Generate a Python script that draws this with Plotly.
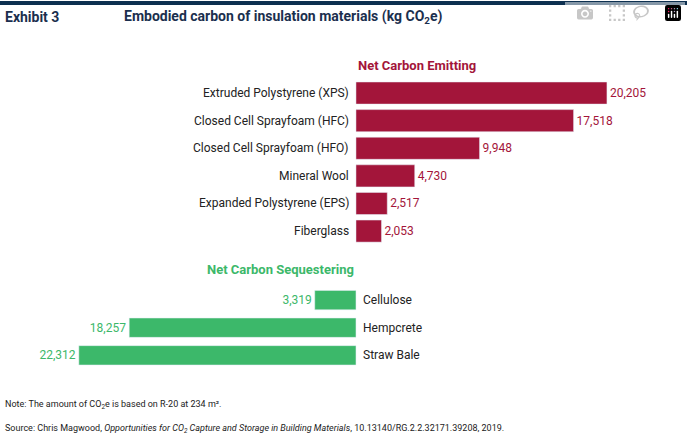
import plotly.graph_objects as go

emit_cats = ["Extruded Polystyrene (XPS)", "Closed Cell Sprayfoam (HFC)", "Closed Cell Sprayfoam (HFO)",
             "Mineral Wool", "Expanded Polystyrene (EPS)", "Fiberglass"]
emit_vals = [20205, 17518, 9948, 4730, 2517, 2053]
seq_cats = ["Cellulose", "Hempcrete", "Straw Bale"]
seq_vals = [3319, 18257, 22312]

RED = "#A3153A"
GREEN = "#3CB86A"
NAVY = "#1B2F4E"
FONT = "Roboto"

emit_y = list(range(len(emit_cats)))
seq_y = [7.5 + i for i in range(len(seq_cats))]

fig = go.Figure()
fig.add_trace(go.Bar(
    x=emit_vals, y=emit_y, orientation="h", marker_color=RED, width=0.8,
    text=[f"{v:,}" for v in emit_vals], textposition="outside", cliponaxis=False,
    textfont=dict(color=RED, size=12, family=FONT), hoverinfo="skip"))
fig.add_trace(go.Bar(
    x=[-v for v in seq_vals], y=seq_y, orientation="h", marker_color=GREEN, width=0.7,
    text=[f"{v:,}" for v in seq_vals], textposition="outside", cliponaxis=False,
    textfont=dict(color=GREEN, size=12, family=FONT), hoverinfo="skip"))

ann = []
for c, y in zip(emit_cats, emit_y):
    ann.append(dict(x=-400, y=y, text=c, xref="x", yref="y", xanchor="right", showarrow=False,
                    font=dict(size=12, color="#222", family=FONT)))
for c, y in zip(seq_cats, seq_y):
    ann.append(dict(x=400, y=y, text=c, xref="x", yref="y", xanchor="left", showarrow=False,
                    font=dict(size=12, color="#222", family=FONT)))
ann.append(dict(x=0, y=-1.0, text="<b>Net Carbon Emitting</b>", xref="x", yref="y", xanchor="left",
                showarrow=False, font=dict(size=13, color=RED, family=FONT)))
ann.append(dict(x=0, y=6.4, text="<b>Net Carbon Sequestering</b>", xref="x", yref="y", xanchor="right",
                showarrow=False, font=dict(size=13, color=GREEN, family=FONT)))
ann.append(dict(x=0.005, y=1 - 17/442, text="<b>Exhibit 3</b>", xref="paper", yref="paper", xanchor="left",
                yanchor="middle", showarrow=False, font=dict(size=14, color=NAVY, family=FONT)))
ann.append(dict(x=122/687, y=1 - 17/442, text="<b>Embodied carbon of insulation materials (kg CO<sub>2</sub>e)</b>",
                xref="paper", yref="paper", xanchor="left", yanchor="middle", showarrow=False,
                font=dict(size=14, color=NAVY, family=FONT)))
ann.append(dict(x=0.005, y=1 - 405/442, text="Note: The amount of CO<sub>2</sub>e is based on R-20 at 234 m².",
                xref="paper", yref="paper", xanchor="left", yanchor="middle", showarrow=False,
                font=dict(size=9, color="#222", family=FONT)))
ann.append(dict(x=0.005, y=1 - 429/442,
                text="Source: Chris Magwood, <i>Opportunities for CO<sub>2</sub> Capture and Storage in Building Materials</i>, 10.13140/RG.2.2.32171.39208, 2019.",
                xref="paper", yref="paper", xanchor="left", yanchor="middle", showarrow=False,
                font=dict(size=9, color="#222", family=FONT)))

fig.update_layout(
    width=687, height=442, margin=dict(l=0, r=0, t=0, b=0),
    paper_bgcolor="white", plot_bgcolor="white", showlegend=False,
    xaxis=dict(range=[-28660, 26650], visible=False, fixedrange=True),
    yaxis=dict(range=[12.64, -3.37], visible=False, fixedrange=True),
    annotations=ann,
    shapes=[dict(type="line", xref="paper", yref="paper", x0=0, x1=1, y0=1 - 3/442, y1=1 - 3/442,
                 line=dict(color="#0D3050", width=4))],
    font=dict(family=FONT),
)
fig.write_html("out.html")

with open("out.html", encoding="utf-8") as f:
    html = f.read()
html = html.replace("<body>", '<body style="margin:0;overflow:hidden">', 1)
with open("out.html", "w", encoding="utf-8") as f:
    f.write(html)
